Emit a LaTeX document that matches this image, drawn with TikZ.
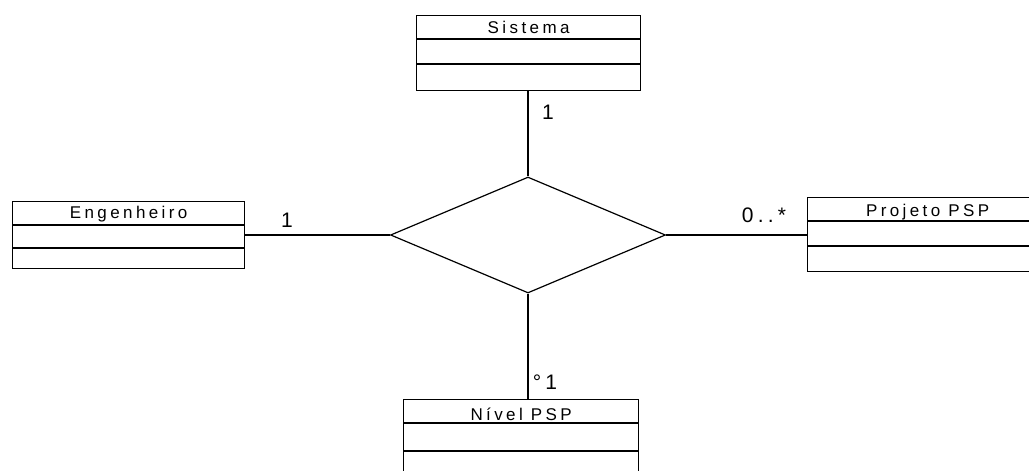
\documentclass[tikz,border=0pt]{standalone}
\usepackage{fontspec}
\setmainfont{Liberation Sans}
\newfontfamily\clsfont[LetterSpace=20]{Liberation Sans}
\usetikzlibrary{positioning,shapes.geometric,calc}

\begin{document}
\begin{tikzpicture}[
    x=1pt, y=-1pt,
    classbox/.style={draw, line width=1.3pt, inner sep=0pt, anchor=north west},
    compline/.style={line width=1.3pt},
    ttl/.style={font=\clsfont\fontsize{17}{20}\selectfont, anchor=base, inner sep=0pt},
    mult/.style={font=\clsfont\fontsize{21}{24}\selectfont, inner sep=0pt},
    link/.style={line width=2pt},
    assoc/.style={diamond, draw, line width=1.2pt, inner sep=0pt,
      minimum width=275, minimum height=116},
  ]
\useasboundingbox (0,0) rectangle (1029,471);
\clip (0,0) rectangle (1029,471);

% Classes
\node[classbox, minimum width=224, minimum height=75] (sistema) at (416,15) {};
\node[classbox, minimum width=232, minimum height=67] (engenheiro) at (12,201) {};
\node[classbox, minimum width=240, minimum height=74] (projeto) at (807,197) {};
\node[classbox, minimum width=235, minimum height=90] (nivel) at (403,399) {};

% Compartments and class names
\foreach \cls/\name/\a/\b/\tb in {sistema/Sistema/24/49/18,
    engenheiro/Engenheiro/24/47/17, projeto/Projeto PSP/24/49/19,
    nivel/Nível PSP/24/52/21} {
  \draw[compline] ($(\cls.north west)+(0,\a)$) -- ($(\cls.north east)+(0,\a)$);
  \draw[compline] ($(\cls.north west)+(0,\b)$) -- ($(\cls.north east)+(0,\b)$);
  \node[ttl] (\cls-name) at ($(\cls.north)+(0,\tb)$) {\name};
}

% Association
\node[assoc] (rel) at (528,235) {};

\draw[link] (rel.north |- sistema.south) -- (rel.north);
\draw[link] (rel.west -| engenheiro.east) -- (rel.west);
\draw[link] (rel.east) -- (rel.east -| projeto.west);
\draw[link] (rel.south) -- (rel.south |- nivel.north);

% Multiplicities
\node[mult] (mSis) at (548,112) {1};
\node[mult] (mEng) at (287,220) {1};
\node[mult] (mProj) at (764,215) {0..*};
\node[mult] (mNiv) at (545,382) {°1};

\end{tikzpicture}
\end{document}
